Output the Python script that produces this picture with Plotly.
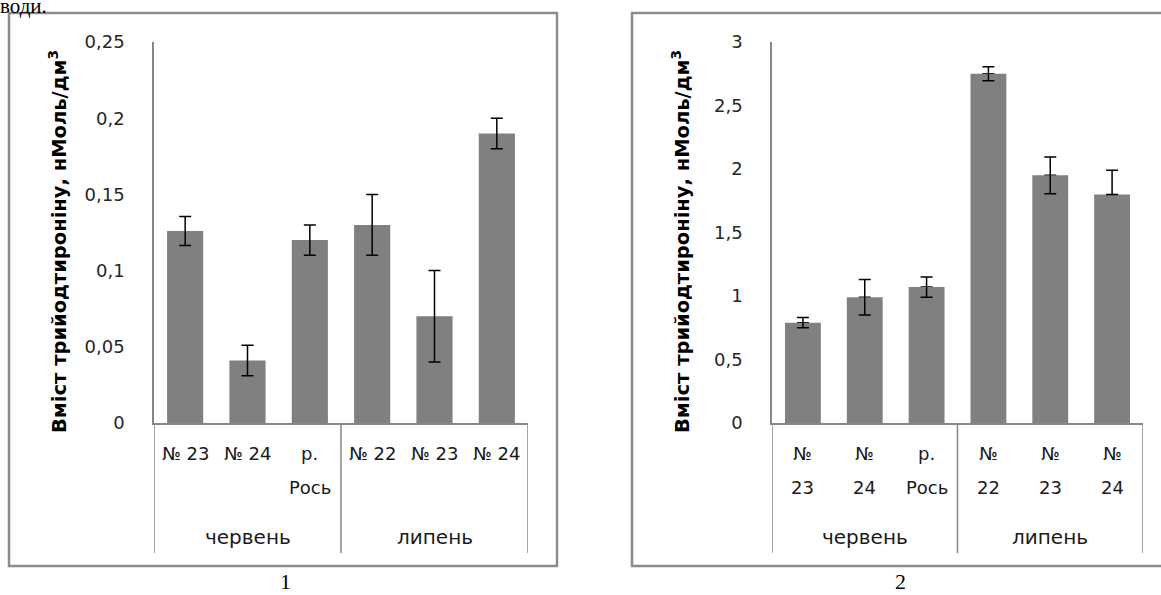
import plotly.graph_objects as go

# ---------------- data ----------------
months = ["червень", "липень"]
group_sizes = [3, 3]

left_line1 = ["№ 23", "№ 24", "р.", "№ 22", "№ 23", "№ 24"]
left_line2 = ["", "", "Рось", "", "", ""]
right_line1 = ["№", "№", "р.", "№", "№", "№"]
right_line2 = ["23", "24", "Рось", "22", "23", "24"]

left_values = [0.126, 0.041, 0.120, 0.130, 0.070, 0.190]
left_errors = [0.0095, 0.010, 0.010, 0.020, 0.030, 0.010]

right_values = [0.79, 0.99, 1.07, 2.75, 1.95, 1.80]
right_errors = [0.04, 0.14, 0.08, 0.055, 0.145, 0.19]
right_err_behind_bar = [False, False, False, False, False, True]

left_ticks = [0, 0.05, 0.1, 0.15, 0.2, 0.25]
left_ticktext = ["0", "0,05", "0,1", "0,15", "0,2", "0,25"]
right_ticks = [0, 0.5, 1, 1.5, 2, 2.5, 3]
right_ticktext = ["0", "0,5", "1", "1,5", "2", "2,5", "3"]

ytitle = "Вміст трийодтироніну, нМоль/дм<sup>3</sup>"
panel_labels = ["1", "2"]
top_text = "води."

# ---------------- styling ----------------
W, H = 1161, 595
BAR = "#808080"
AXIS = "#868686"
FRAME = "#8c8c8c"
TXT = "#1a1a1a"
FONT = "DejaVu Sans"


def px(x):
    return x / W


def py(y):
    return 1 - y / H


n = len(left_values)
xpos = list(range(n))

fig = go.Figure()

err_style = dict(type="data", symmetric=True, color="black", thickness=1.5, width=6)

fig.add_trace(go.Bar(
    x=xpos, y=left_values, marker=dict(color=BAR, line=dict(width=0)),
    error_y=dict(array=left_errors, **err_style),
    xaxis="x", yaxis="y", hoverinfo="skip"))

# right panel: error bars whose lower half is hidden behind the bar (drawn first)
hidden_err = [e if h else float("nan") for e, h in zip(right_errors, right_err_behind_bar)]
shown_err = [float("nan") if h else e for e, h in zip(right_errors, right_err_behind_bar)]
fig.add_trace(go.Bar(
    x=xpos, y=right_values, marker=dict(color="rgba(0,0,0,0)", line=dict(width=0)),
    error_y=dict(array=hidden_err, **err_style),
    xaxis="x2", yaxis="y2", hoverinfo="skip"))
fig.add_trace(go.Bar(
    x=xpos, y=right_values, marker=dict(color=BAR, line=dict(width=0)),
    error_y=dict(array=shown_err, **err_style),
    xaxis="x2", yaxis="y2", hoverinfo="skip"))

ydom = [py(423), py(42)]
xaxis_common = dict(range=[-0.5, n - 0.5], showline=True, linecolor=AXIS, linewidth=1.5,
                    showticklabels=False, ticks="", showgrid=False, zeroline=False, fixedrange=True)
yaxis_common = dict(showline=True, linecolor=AXIS, linewidth=1.5, ticks="", showgrid=False,
                    zeroline=False, fixedrange=True, ticklabelstandoff=24, automargin=False,
                    tickfont=dict(family=FONT, size=18, color="#262626"))

fig.update_layout(
    width=W, height=H, margin=dict(l=0, r=0, t=0, b=0, autoexpand=False),
    paper_bgcolor="white", plot_bgcolor="white", showlegend=False,
    barmode="overlay", bargap=0.42,
    title=dict(text=top_text, x=0, xanchor="left", xref="container", yref="container",
               y=0.991, yanchor="middle", pad=dict(t=0, l=0, r=0, b=0),
               font=dict(family="Liberation Serif", size=21, color="black")),
    xaxis=dict(domain=[px(154), px(528)], anchor="y", **xaxis_common),
    yaxis=dict(domain=ydom, anchor="x", range=[0, left_ticks[-1]],
               tickvals=left_ticks, ticktext=left_ticktext, **yaxis_common),
    xaxis2=dict(domain=[px(772), px(1143)], anchor="y2", **xaxis_common),
    yaxis2=dict(domain=ydom, anchor="x2", range=[0, right_ticks[-1]],
                tickvals=right_ticks, ticktext=right_ticktext, **yaxis_common),
)

shapes = []
annotations = []

# frames
shapes.append(dict(type="rect", xref="paper", yref="paper", x0=px(9), x1=px(557),
                   y0=py(566), y1=py(13), line=dict(color=FRAME, width=2.5)))
shapes.append(dict(type="rect", xref="paper", yref="paper", x0=px(632), x1=px(1175),
                   y0=py(566), y1=py(13), line=dict(color=FRAME, width=2.5)))

for xr, line1, line2 in [("x", left_line1, left_line2), ("x2", right_line1, right_line2)]:
    # group separators
    bounds = [-0.5]
    for g in group_sizes:
        bounds.append(bounds[-1] + g)
    for b in bounds:
        shapes.append(dict(type="line", xref=xr, yref="paper", x0=b, x1=b,
                           y0=py(553), y1=ydom[0], line=dict(color=AXIS, width=1.5)))
    # month labels
    for gi, m in enumerate(months):
        annotations.append(dict(xref=xr, yref="paper", x=(bounds[gi] + bounds[gi + 1]) / 2,
                                y=py(537), text=m, showarrow=False, xanchor="center",
                                yanchor="middle", font=dict(family=FONT, size=20, color=TXT)))
    # category labels
    for i in range(n):
        annotations.append(dict(xref=xr, yref="paper", x=xpos[i], y=py(453), text=line1[i],
                                showarrow=False, xanchor="center", yanchor="middle",
                                font=dict(family=FONT, size=18, color=TXT)))
        if line2[i]:
            annotations.append(dict(xref=xr, yref="paper", x=xpos[i], y=py(487), text=line2[i],
                                    showarrow=False, xanchor="center", yanchor="middle",
                                    font=dict(family=FONT, size=18, color=TXT)))

# y-axis titles
for xc in [58, 681]:
    annotations.append(dict(xref="paper", yref="paper", x=px(xc), y=py(242), text="<b>" + ytitle + "</b>",
                            textangle=-90, showarrow=False, xanchor="center", yanchor="middle",
                            font=dict(family=FONT, size=19.5, color="black")))

# panel numbers
for lbl, xc in zip(panel_labels, [285, 900]):
    annotations.append(dict(xref="paper", yref="paper", x=px(xc), y=py(581), text=lbl,
                            showarrow=False, xanchor="center", yanchor="middle",
                            font=dict(family="Liberation Serif", size=22, color="black")))

fig.update_layout(shapes=shapes, annotations=annotations)

fig.write_html("out.html")
